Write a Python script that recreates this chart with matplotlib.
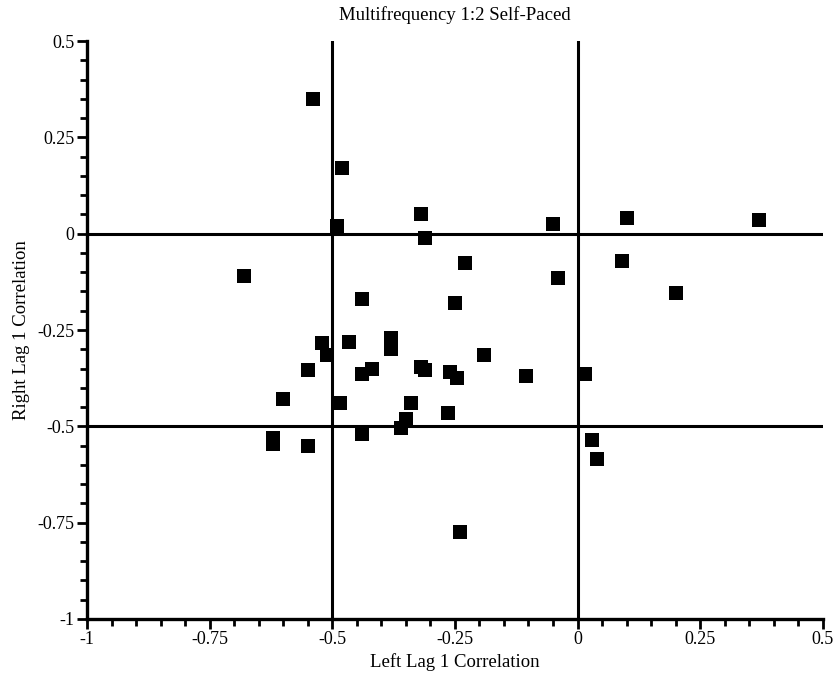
import matplotlib
matplotlib.use("Agg")
import matplotlib.pyplot as plt
from matplotlib.ticker import MultipleLocator, FixedLocator

# Lag-1 autocorrelations of the left and right hand, one point per trial
left_lag1 = [
    -0.54, -0.48, -0.49, -0.32, -0.31, -0.05, 0.10, 0.37,
    -0.68, -0.23, -0.04, 0.09, 0.20,
    -0.44, -0.25,
    -0.38, -0.38, -0.52, -0.51, -0.465, -0.19,
    -0.55, -0.42, -0.44, -0.32, -0.31, -0.26, -0.245, -0.105, 0.015,
    -0.60, -0.485, -0.34, -0.265, -0.35, -0.36, -0.44,
    -0.62, -0.62, -0.55, 0.03, 0.04, -0.24,
]
right_lag1 = [
    0.35, 0.17, 0.02, 0.05, -0.01, 0.025, 0.04, 0.035,
    -0.11, -0.075, -0.115, -0.07, -0.155,
    -0.17, -0.18,
    -0.27, -0.30, -0.285, -0.315, -0.28, -0.315,
    -0.355, -0.35, -0.365, -0.345, -0.355, -0.36, -0.375, -0.37, -0.365,
    -0.43, -0.44, -0.44, -0.465, -0.48, -0.505, -0.52,
    -0.53, -0.545, -0.55, -0.535, -0.585, -0.775,
]

major_ticks = [-1, -0.75, -0.5, -0.25, 0, 0.25, 0.5]
tick_labels = ["-1", "-0.75", "-0.5", "-0.25", "0", "0.25", "0.5"]
vertical_refs = [-0.5, 0]
horizontal_refs = [0, -0.5]

plt.rcParams["font.family"] = ["Liberation Serif", "DejaVu Serif"]

fig = plt.figure(figsize=(8.37, 6.77), dpi=100)
ax = fig.add_axes([0.104, 0.0857, 0.879, 0.8537])

ax.set_xlim(-1, 0.5)
ax.set_ylim(-1, 0.5)

for xv in vertical_refs:
    ax.axvline(xv, color="black", lw=2.2, zorder=2)
for yv in horizontal_refs:
    ax.axhline(yv, color="black", lw=2.2, zorder=2)

ax.scatter(left_lag1, right_lag1, marker="s", s=95, color="black",
           linewidths=0, zorder=3, clip_on=False)

for side in ("top", "right"):
    ax.spines[side].set_visible(False)
for side in ("left", "bottom"):
    ax.spines[side].set_linewidth(2.4)

ax.xaxis.set_major_locator(FixedLocator(major_ticks))
ax.yaxis.set_major_locator(FixedLocator(major_ticks))
ax.set_xticklabels(tick_labels)
ax.set_yticklabels(tick_labels)
ax.xaxis.set_minor_locator(MultipleLocator(0.05))
ax.yaxis.set_minor_locator(MultipleLocator(0.05))
ax.tick_params(which="major", direction="out", length=7, width=2,
               labelsize=13, pad=2)
ax.tick_params(which="minor", direction="out", length=5, width=2)

ax.set_xlabel("Left Lag 1 Correlation", fontsize=13.5, labelpad=3)
ax.set_ylabel("Right Lag 1 Correlation", fontsize=13.5, labelpad=5)
ax.set_title("Multifrequency 1:2 Self-Paced", fontsize=13.5, pad=15)

fig.savefig("out.png", dpi=100)
